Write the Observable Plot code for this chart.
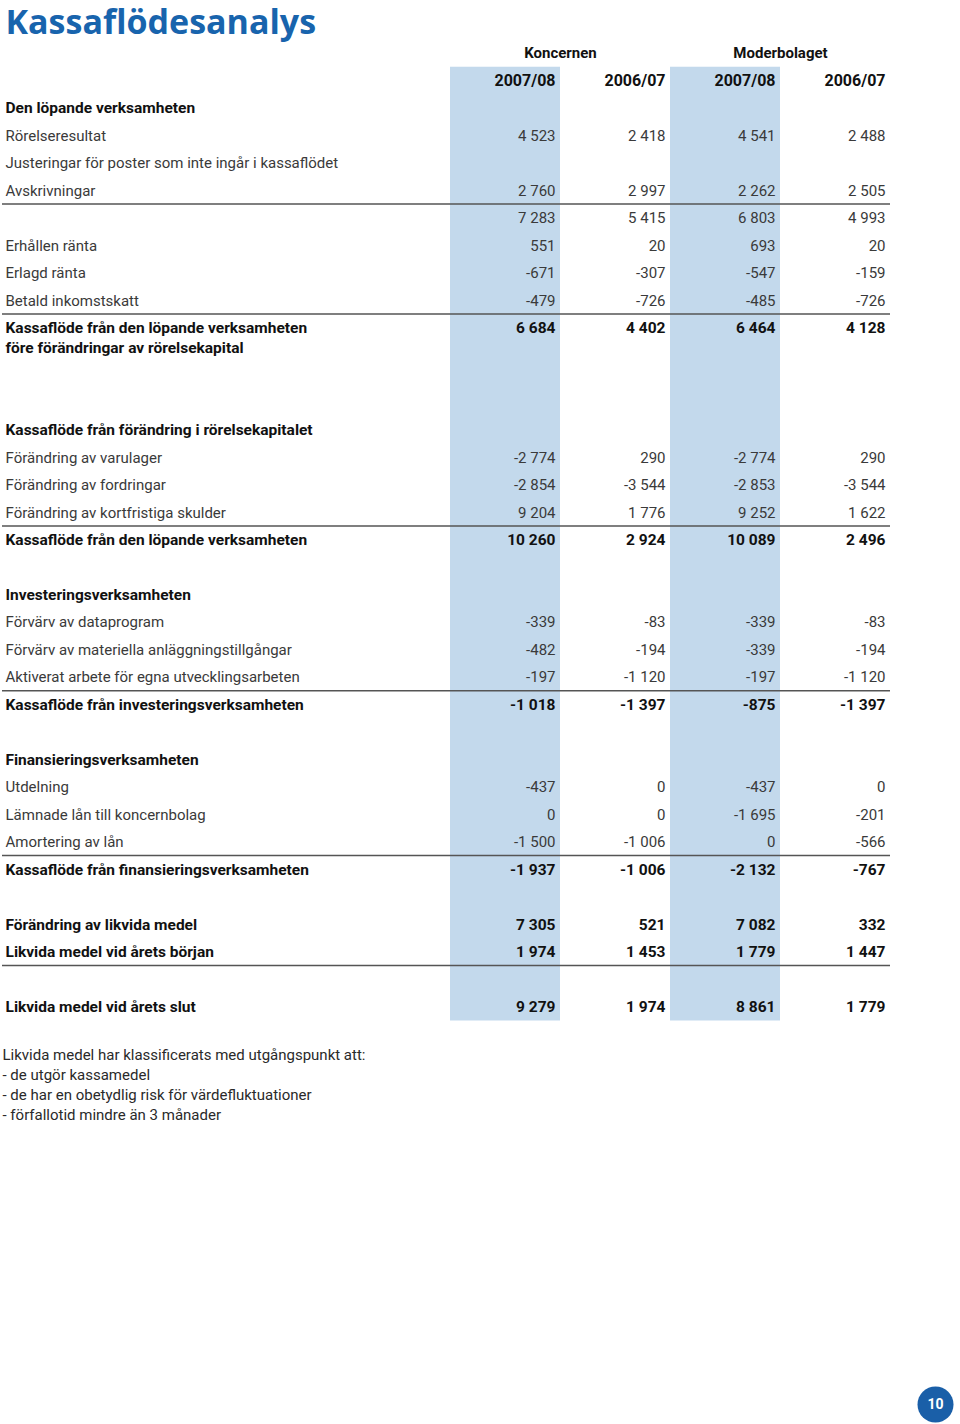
<!DOCTYPE html>
<html>
<head>
<meta charset="utf-8">
<script src="https://cdn.jsdelivr.net/npm/d3@7"></script>
<script src="https://cdn.jsdelivr.net/npm/@observablehq/plot@0.6"></script>
<style>
  html, body { margin: 0; padding: 0; background: #fff; }
  #chart svg { display: block; }
</style>
</head>
<body>
<div id="chart"></div>
<script>
// ---------- data ----------
const title = "Kassaflödesanalys";
const groups = ["Koncernen", "Moderbolaget"];
const columns = ["K0708", "K0607", "M0708", "M0607"];
const years = ["2007/08", "2006/07", "2007/08", "2006/07"];

const labels = [
  "Den löpande verksamheten",
  "Rörelseresultat",
  "Justeringar för poster som inte ingår i kassaflödet",
  "Avskrivningar",
  "",
  "Erhållen ränta",
  "Erlagd ränta",
  "Betald inkomstskatt",
  "Kassaflöde från den löpande verksamheten\nföre förändringar av rörelsekapital",
  null,
  null,
  "Kassaflöde från förändring i rörelsekapitalet",
  "Förändring av varulager",
  "Förändring av fordringar",
  "Förändring av kortfristiga skulder",
  "Kassaflöde från den löpande verksamheten",
  null,
  "Investeringsverksamheten",
  "Förvärv av dataprogram",
  "Förvärv av materiella anläggningstillgångar",
  "Aktiverat arbete för egna utvecklingsarbeten",
  "Kassaflöde från investeringsverksamheten",
  null,
  "Finansieringsverksamheten",
  "Utdelning",
  "Lämnade lån till koncernbolag",
  "Amortering av lån",
  "Kassaflöde från finansieringsverksamheten",
  null,
  "Förändring av likvida medel",
  "Likvida medel vid årets början",
  null,
  "Likvida medel vid årets slut"
];
// h = heading, i = item, t = total (bold), b = blank
const kinds = ["h","i","i","i","i","i","i","i","t","b","b","h","i","i","i","t","b","h","i","i","i","t","b","h","i","i","i","t","b","t","t","b","t"];
// rows followed by a rule
const ruled = ["Avskrivningar", "Betald inkomstskatt", "Förändring av kortfristiga skulder",
  "Aktiverat arbete för egna utvecklingsarbeten", "Amortering av lån", "Likvida medel vid årets början"];

const K0708 = [null, 4523, null, 2760, 7283, 551, -671, -479, 6684, null, null, null, -2774, -2854, 9204, 10260, null, null, -339, -482, -197, -1018, null, null, -437, 0, -1500, -1937, null, 7305, 1974, null, 9279];
const K0607 = [null, 2418, null, 2997, 5415, 20, -307, -726, 4402, null, null, null, 290, -3544, 1776, 2924, null, null, -83, -194, -1120, -1397, null, null, 0, 0, -1006, -1006, null, 521, 1453, null, 1974];
const M0708 = [null, 4541, null, 2262, 6803, 693, -547, -485, 6464, null, null, null, -2774, -2853, 9252, 10089, null, null, -339, -339, -197, -875, null, null, -437, -1695, 0, -2132, null, 7082, 1779, null, 8861];
const M0607 = [null, 2488, null, 2505, 4993, 20, -159, -726, 4128, null, null, null, 290, -3544, 1622, 2496, null, null, -83, -194, -1120, -1397, null, null, 0, -201, -566, -767, null, 332, 1447, null, 1779];

const footnote = [
  "Likvida medel har klassificerats med utgångspunkt att:",
  "- de utgör kassamedel",
  "- de har en obetydlig risk för värdefluktuationer",
  "- förfallotid mindre än 3 månader"
];
const pageNumber = "10";

// ---------- layout (row slots) ----------
const series = {K0708, K0607, M0708, M0607};
const extraLine = 0.72;       // extra slot for a second text line
let cursor = 2;               // slot 0 = groups, slot 1 = years
const rows = labels.map((label, i) => {
  const lines = label == null ? [] : label.split("\n");
  const r = {label, lines, kind: kinds[i], slot: cursor, i};
  cursor += 1 + Math.max(0, lines.length - 1) * extraLine;
  return r;
});
const lastSlot = rows[rows.length - 1].slot;

const labelLines = rows.flatMap(r => r.lines.map((t, j) => ({text: t, slot: r.slot + j * extraLine, bold: r.kind !== "i"})));
const cells = rows.flatMap(r => columns.map(c => ({col: c, slot: r.slot, value: series[c][r.i], bold: r.kind === "t"})))
  .filter(d => d.value != null);
const ruleRows = rows.filter(r => ruled.includes(r.label));
const bands = [columns[0], columns[2]].map(c => ({col: c, y1: 0.5, y2: lastSlot + 0.5}));

const locale = d3.formatLocale({decimal: ",", thousands: "\u00a0", grouping: [3], currency: ["", ""], minus: "-"});
const fmt = locale.format(",d");

const bw = 110;
const FONT = "Roboto, 'Open Sans', sans-serif";
const BLUE = "#1864ad";
const DARK = "#111";
const GREY = "#3a3a3a";

const chart = Plot.plot({
  width: 960,
  height: 1424,
  marginLeft: 2,
  marginRight: 70,
  marginTop: 0,
  marginBottom: 0,
  style: {fontFamily: FONT, fontSize: "15px", background: "#fff"},
  x: {type: "band", domain: columns, range: [450, 890], padding: 0, axis: null},
  y: {type: "linear", domain: [0, 1], range: [53, 53 + 27.47], axis: null},
  marks: [
    Plot.barY(bands, {x: "col", y1: "y1", y2: "y2", fill: "#c3d9ec"}),
    Plot.ruleY(ruleRows, {y: d => d.slot + 0.48, stroke: "#555", strokeWidth: 1.5}),
    Plot.text([title], {y: () => -1.12, frameAnchor: "left", dx: 3, text: d => d, textAnchor: "start",
      fontSize: 34, fontWeight: 700, fill: BLUE, fontFamily: "'Open Sans', sans-serif"}),
    Plot.text(groups, {x: (d, i) => columns[i * 2], y: () => 0, text: d => d, dx: bw / 2, fontWeight: 700, fill: DARK}),
    Plot.text(years, {x: (d, i) => columns[i], y: () => 1, text: d => d, textAnchor: "end", dx: bw / 2 - 5, fontWeight: 700, fill: DARK, fontSize: 16}),
    Plot.text(labelLines.filter(d => !d.bold), {y: "slot", text: "text", frameAnchor: "left", dx: 3, textAnchor: "start", fill: GREY}),
    Plot.text(labelLines.filter(d => d.bold), {y: "slot", text: "text", frameAnchor: "left", dx: 3, textAnchor: "start", fontWeight: 700, fontSize: 15.5, fill: DARK}),
    Plot.text(cells.filter(d => !d.bold), {x: "col", y: "slot", text: d => fmt(d.value), textAnchor: "end", dx: bw / 2 - 5, fill: GREY}),
    Plot.text(cells.filter(d => d.bold), {x: "col", y: "slot", text: d => fmt(d.value), textAnchor: "end", dx: bw / 2 - 5, fontWeight: 700, fontSize: 15.5, fill: DARK}),
    Plot.text(footnote, {y: (d, i) => lastSlot + 1.75 + i * 0.728, text: d => d, frameAnchor: "left", dx: 0, textAnchor: "start", fill: "#2a2a2a"}),
    Plot.dot([pageNumber], {frameAnchor: "bottom-right", dx: 45, dy: -20, r: 18, fill: "#1a5fa8"}),
    Plot.text([pageNumber], {frameAnchor: "bottom-right", dx: 45, dy: -20, lineAnchor: "middle", textAnchor: "middle", text: d => d, fill: "#fff", fontWeight: 700, fontSize: 14})
  ]
});
document.getElementById("chart").append(chart);
</script>
</body>
</html>
